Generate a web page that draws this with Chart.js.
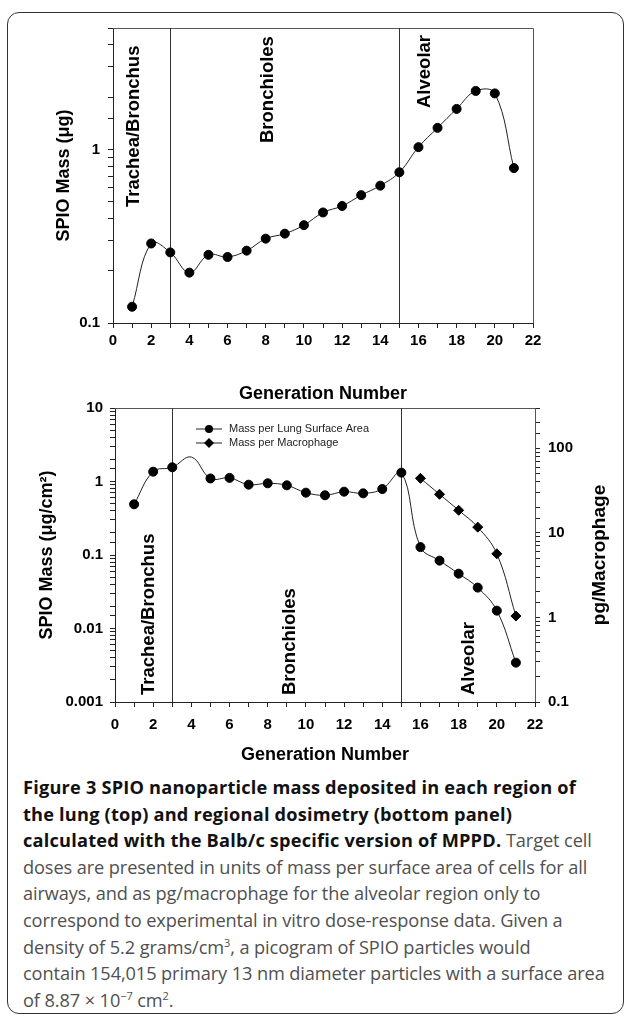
<!DOCTYPE html>
<html>
<head>
<meta charset="utf-8">
<script src="https://cdn.jsdelivr.net/npm/chart.js@4.4.1/dist/chart.umd.min.js"></script>
<style>
  body { margin: 0; background: #fff; width: 627px; height: 1016px; position: relative; overflow: hidden; }
  .frame { position: absolute; left: 7px; top: 12px; width: 617px; height: 1002px; border: 1.5px solid #333; border-radius: 12px; box-sizing: border-box; }
  canvas { position: absolute; left: 0; }
  #topChart { top: 0; }
  #bottomChart { top: 390px; }
  .caption { position: absolute; left: 23px; top: 774px; font-family: "Open Sans", sans-serif; font-size: 18.2px; line-height: 26.6px; color: #505050; letter-spacing: -0.1px; }
  .caption div { white-space: nowrap; }
  .caption b { color: #111; font-weight: 700; letter-spacing: 0.2px; }
  .caption sup { font-size: 11px; line-height: 0; }
</style>
</head>
<body>
<div class="frame"></div>
<canvas id="topChart" width="627" height="410"></canvas>
<canvas id="bottomChart" width="627" height="380"></canvas>
<div class="caption">
  <div><b>Figure 3 SPIO nanoparticle mass deposited in each region of</b></div>
  <div><b>the lung (top) and regional dosimetry (bottom panel)</b></div>
  <div><b>calculated with the Balb/c specific version of MPPD.</b> Target cell</div>
  <div>doses are presented in units of mass per surface area of cells for all</div>
  <div>airways, and as pg/macrophage for the alveolar region only to</div>
  <div>correspond to experimental in vitro dose-response data. Given a</div>
  <div>density of 5.2 grams/cm<sup>3</sup>, a picogram of SPIO particles would</div>
  <div>contain 154,015 primary 13 nm diameter particles with a surface area</div>
  <div>of 8.87 × 10<sup>−7</sup> cm<sup>2</sup>.</div>
</div>
<script>
// generation numbers along the airway tree
const generations = [1, 2, 3, 4, 5, 6, 7, 8, 9, 10, 11, 12, 13, 14, 15, 16, 17, 18, 19, 20, 21];
// top panel: SPIO mass (ug) per generation
const massPerGeneration = [0.124, 0.287, 0.255, 0.195, 0.247, 0.240, 0.261, 0.306, 0.327, 0.366, 0.433,
  0.472, 0.545, 0.618, 0.738, 1.03, 1.33, 1.71, 2.17, 2.10, 0.78];
// bottom panel: mass per lung surface area (ug/cm2)
const massPerArea = [0.49, 1.36, 1.56, 2.15, 1.10, 1.12, 0.905, 0.945, 0.887, 0.705, 0.649,
  0.727, 0.69, 0.79, 1.32, 0.128, 0.0838, 0.0557, 0.036, 0.0175, 0.00343];
// bottom panel: mass per macrophage (pg), alveolar generations only
const macrophageGenerations = [16, 17, 18, 19, 20, 21];
const massPerMacrophage = [44.2, 28.6, 18.5, 11.7, 5.66, 1.04];

// region boundaries and axis labels
const regionBounds = [3, 15];
const xTickLabels = [0, 2, 4, 6, 8, 10, 12, 14, 16, 18, 20, 22];
const topYTickLabels = [0.1, 1];
const leftYTickLabels = [0.001, 0.01, 0.1, 1, 10];
const rightYTickLabels = [0.1, 1, 10, 100];

const FONT = '"Liberation Sans", Arial, sans-serif';
Chart.defaults.font.family = FONT;
Chart.defaults.color = "#000";

function points(xs, ys) {
  return xs.map((x, i) => ({ x: x, y: ys[i] }));
}

function logLabel(list) {
  return function (value) {
    const hit = list.find((t) => Math.abs(Math.log10(value) - Math.log10(t)) < 1e-6);
    return hit === undefined ? "" : String(hit);
  };
}

function fixWidth(w) {
  return function (axis) { axis.width = w; };
}
function fixHeight(h) {
  return function (axis) { axis.height = h; };
}

const tickFont = { size: 15, weight: "bold" };
const tickGrid = { drawOnChartArea: false, drawTicks: true, tickLength: 5, color: "#222" };
const axisBorder = { color: "#222", width: 1 };

function xAxis(height, labelPad, titlePad) {
  return {
    type: "linear",
    min: 0,
    max: 22,
    afterFit: fixHeight(height),
    ticks: {
      stepSize: 1,
      autoSkip: false,
      maxRotation: 0,
      padding: labelPad,
      font: tickFont,
      callback: (v) => (xTickLabels.includes(v) ? String(v) : ""),
    },
    grid: tickGrid,
    border: axisBorder,
    title: {
      display: true,
      text: "Generation Number",
      font: { size: 18, weight: "bold" },
      padding: { top: 0, bottom: titlePad },
    },
  };
}

// frame around the plot and the region dividers
const regionLines = {
  id: "regionLines",
  beforeDatasetsDraw(chart) {
    const { ctx, chartArea: a, scales } = chart;
    ctx.save();
    ctx.strokeStyle = "#555";
    ctx.lineWidth = 1;
    ctx.beginPath();
    ctx.moveTo(a.left, a.top + 0.5);
    ctx.lineTo(a.right + 0.5, a.top + 0.5);
    ctx.lineTo(a.right + 0.5, a.bottom);
    ctx.stroke();
    ctx.strokeStyle = "#333";
    regionBounds.forEach((g) => {
      const px = Math.round(scales.x.getPixelForValue(g)) + 0.5;
      ctx.beginPath();
      ctx.moveTo(px, a.top);
      ctx.lineTo(px, a.bottom);
      ctx.stroke();
    });
    ctx.restore();
  },
};

// rotated region names
const regionNames = {
  id: "regionNames",
  afterDraw(chart, args, opts) {
    const { ctx, scales } = chart;
    ctx.save();
    ctx.font = "bold 18.5px " + FONT;
    ctx.fillStyle = "#000";
    ctx.textAlign = "left";
    ctx.textBaseline = "middle";
    opts.items.forEach((item) => {
      ctx.save();
      ctx.translate(scales.x.getPixelForValue(item.at), item.y);
      ctx.rotate(-Math.PI / 2);
      ctx.fillText(item.text, 0, 0);
      ctx.restore();
    });
    ctx.restore();
  },
};

// legend inside the plot and right axis title (reads bottom to top)
const bottomExtras = {
  id: "bottomExtras",
  afterDraw(chart) {
    const { ctx } = chart;
    ctx.save();
    chart.data.datasets.forEach((ds, i) => {
      const y = 39 + i * 14;
      ctx.strokeStyle = "#222";
      ctx.lineWidth = 1;
      ctx.beginPath();
      ctx.moveTo(196, y);
      ctx.lineTo(222, y);
      ctx.stroke();
      ctx.fillStyle = "#000";
      ctx.beginPath();
      if (ds.pointStyle === "rectRot") {
        ctx.moveTo(209, y - 5);
        ctx.lineTo(214, y);
        ctx.lineTo(209, y + 5);
        ctx.lineTo(204, y);
      } else {
        ctx.arc(209, y, 4, 0, Math.PI * 2);
      }
      ctx.fill();
      ctx.font = "11px " + FONT;
      ctx.fillStyle = "#222";
      ctx.textAlign = "left";
      ctx.textBaseline = "middle";
      ctx.fillText(ds.label, 229, y);
    });
    ctx.font = "bold 19px " + FONT;
    ctx.fillStyle = "#000";
    ctx.textAlign = "center";
    ctx.textBaseline = "middle";
    ctx.translate(600, 165);
    ctx.rotate(-Math.PI / 2);
    ctx.fillText("pg/Macrophage", 0, 0);
    ctx.restore();
  },
};

const lineStyle = {
  borderColor: "#222",
  borderWidth: 1,
  pointBackgroundColor: "#000",
  pointBorderColor: "#000",
  tension: 0.4,
};

new Chart(document.getElementById("topChart"), {
  type: "line",
  data: {
    datasets: [
      Object.assign({
        label: "SPIO Mass",
        data: points(generations, massPerGeneration),
        pointStyle: "circle",
        pointRadius: 4.5,
      }, lineStyle),
    ],
  },
  options: {
    responsive: false,
    animation: false,
    layout: { padding: { left: 0, top: 28, right: 94, bottom: 0 } },
    plugins: {
      legend: { display: false },
      tooltip: { enabled: false },
      regionNames: {
        items: [
          { text: "Trachea/Bronchus", at: 1.1, y: 207 },
          { text: "Bronchioles", at: 8.12, y: 143 },
          { text: "Alveolar", at: 16.34, y: 108 },
        ],
      },
    },
    scales: {
      x: xAxis(87, 4, 5),
      y: {
        type: "logarithmic",
        min: 0.1,
        max: 5,
        afterFit: fixWidth(113),
        ticks: { autoSkip: false, padding: 8, font: tickFont, callback: logLabel(topYTickLabels) },
        grid: tickGrid,
        border: axisBorder,
        title: { display: true, text: "SPIO Mass (μg)", font: { size: 18, weight: "bold" }, padding: { top: 53 } },
      },
    },
  },
  plugins: [regionLines, regionNames],
});

new Chart(document.getElementById("bottomChart"), {
  type: "line",
  data: {
    datasets: [
      Object.assign({
        label: "Mass per Lung Surface Area",
        data: points(generations, massPerArea),
        yAxisID: "y",
        pointStyle: "circle",
        pointRadius: (c) => (c.dataIndex === 3 ? 0 : 4.5),
      }, lineStyle),
      Object.assign({
        label: "Mass per Macrophage",
        data: points(macrophageGenerations, massPerMacrophage),
        yAxisID: "y2",
        pointStyle: "rectRot",
        pointRadius: 5,
      }, lineStyle),
    ],
  },
  options: {
    responsive: false,
    animation: false,
    layout: { padding: { left: 0, top: 18, right: 0, bottom: 0 } },
    plugins: {
      legend: { display: false },
      tooltip: { enabled: false },
      regionNames: {
        items: [
          { text: "Trachea/Bronchus", at: 1.78, y: 305 },
          { text: "Bronchioles", at: 9.17, y: 305 },
          { text: "Alveolar", at: 18.54, y: 305 },
        ],
      },
    },
    scales: {
      x: xAxis(68, 9, 4),
      y: {
        type: "logarithmic",
        position: "left",
        min: 0.001,
        max: 10,
        afterFit: fixWidth(115),
        ticks: { autoSkip: false, padding: 7, font: tickFont, callback: logLabel(leftYTickLabels) },
        grid: tickGrid,
        border: axisBorder,
        title: { display: true, text: "SPIO Mass (μg/cm²)", font: { size: 18, weight: "bold" }, padding: { top: 36 } },
      },
      y2: {
        type: "logarithmic",
        position: "right",
        min: 0.1,
        max: 300,
        afterFit: fixWidth(92),
        ticks: { autoSkip: false, padding: 8, font: tickFont, callback: logLabel(rightYTickLabels) },
        grid: tickGrid,
        border: axisBorder,
      },
    },
  },
  plugins: [regionLines, regionNames, bottomExtras],
});
</script>
</body>
</html>
